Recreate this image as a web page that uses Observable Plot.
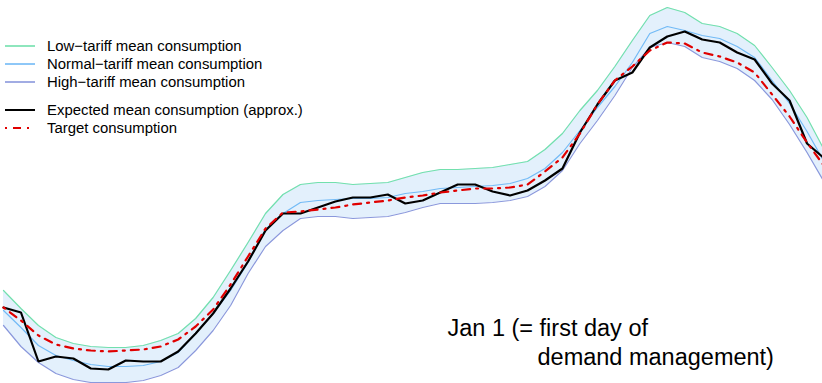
<!DOCTYPE html>
<html>
<head>
<meta charset="utf-8">
<script src="https://cdn.jsdelivr.net/npm/d3@7"></script>
<script src="https://cdn.jsdelivr.net/npm/@observablehq/plot@0.6"></script>
<style>
  html, body { margin: 0; padding: 0; background: #fff; }
  #wrap { position: relative; width: 822px; height: 383px; overflow: hidden; font-family: "Liberation Sans", Arial, sans-serif; }
  #legend { position: absolute; left: 0; top: 0; }
  #legend .row { position: absolute; left: 0; height: 18px; white-space: nowrap; font-size: 14.9px; color: #000; }
  #legend svg { position: absolute; left: 0; top: 0; overflow: visible; }
  #legend span { position: absolute; left: 47px; top: 0; line-height: 18px; }
</style>
</head>
<body>
<div id="wrap"></div>
<script>
// half-hour time slots (hours)
const slots = [0,0.5,1,1.5,2,2.5,3,3.5,4,4.5,5,5.5,6,6.5,7,7.5,8,8.5,9,9.5,10,10.5,11,11.5,
               12,12.5,13,13.5,14,14.5,15,15.5,16,16.5,17,17.5,18,18.5,19,19.5,20,20.5,21,21.5,22,22.5,23,23.5];

// mean consumption (arbitrary units)
const lowTariff = [110,92,75,63,57,54,53,53,55,60,67,82,103,130,158,187,206,216,218,218,216,217,218,223,
                   228,231,231,232,233,236,239,251,267,290,310,334,360,385,393,388,377,374,367,355,333,310,283,250];
const normalTariff = [90,73,55,45,40,36,34,34,35,39,48,67,87,110,138,171,187,198,200,201,202,202,203,207,
                      209,212,213,214,215,217,222,232,248,270,293,314,338,367,374,370,365,362,354,343,320,297,269,238];
const highTariff = [75,54,38,27,21,18,18,18,20,25,33,50,70,95,127,154,170,182,184,184,182,183,184,188,
                    193,197,197,197,198,200,204,214,230,257,280,305,333,353,358,354,343,339,332,320,301,276,248,218];
const expected = [93,88,39,44,42,32,31,40,39,39,49,67,87,112,139,170,187,187,193,199,203,203,206,197,
                  200,208,216,216,209,205,210,220,232,268,296,320,328,353,364,369,361,358,348,341,317,300,257,242];
const target = [93,80,65,56,52,50,49,50,51,54,61,74,91,116,144,172,188,189,191,193,196,198,200,203,
                205,208,210,212,212,213,216,229,243,267,296,320,334,350,358,357,348,344,338,328,306,284,258,234];

const legendLabels = ["Low\u2212tariff mean consumption", "Normal\u2212tariff mean consumption",
                      "High\u2212tariff mean consumption", "Expected mean consumption (approx.)", "Target consumption"];
const annotationLines = ["Jan 1 (= first day of", "demand management)"];

const colors = {low: "#72e0ad", normal: "#72baf6", high: "#8a98dc", fill: "#e3f0fc", expected: "#000000", target: "#e00000"};

const data = slots.map((t, i) => ({t, low: lowTariff[i], normal: normalTariff[i], high: highTariff[i],
                                   expected: expected[i], target: target[i]}));

const chart = Plot.plot({
  width: 822,
  height: 383,
  margin: 0,
  x: {domain: [0, 23.5], range: [3, 824], axis: null},
  y: {domain: [17, 400], range: [383, 0], axis: null},
  marks: [
    Plot.areaY(data, {x: "t", y1: "high", y2: "low", fill: colors.fill}),
    Plot.lineY(data, {x: "t", y: "low", stroke: colors.low, strokeWidth: 1.2}),
    Plot.lineY(data, {x: "t", y: "normal", stroke: colors.normal, strokeWidth: 1.2}),
    Plot.lineY(data, {x: "t", y: "high", stroke: colors.high, strokeWidth: 1.2}),
    Plot.lineY(data, {x: "t", y: "expected", stroke: colors.expected, strokeWidth: 2.2, strokeLinejoin: "miter"}),
    Plot.lineY(data, {x: "t", y: "target", stroke: colors.target, strokeWidth: 2.2, strokeDasharray: "2,6,8,6"}),
    Plot.text([annotationLines[0]], {frameAnchor: "top-left", dx: 447, dy: 328, text: d => d,
      fontSize: 23.5, textAnchor: "start", lineAnchor: "middle", fill: "#000"}),
    Plot.text([annotationLines[1]], {frameAnchor: "top-left", dx: 537, dy: 357, text: d => d,
      fontSize: 23.5, textAnchor: "start", lineAnchor: "middle", fill: "#000"})
  ]
});
chart.style.fontFamily = '"Liberation Sans", Arial, sans-serif';
chart.style.overflow = "hidden";

const wrap = document.getElementById("wrap");
wrap.appendChild(chart);

// legend overlay
const legend = document.createElement("div");
legend.id = "legend";
const rows = [
  {label: legendLabels[0], y: 46, stroke: colors.low, w: 1.6, dash: null},
  {label: legendLabels[1], y: 64, stroke: colors.normal, w: 1.6, dash: null},
  {label: legendLabels[2], y: 82, stroke: colors.high, w: 1.6, dash: null},
  {label: legendLabels[3], y: 109.5, stroke: colors.expected, w: 2, dash: null},
  {label: legendLabels[4], y: 128, stroke: colors.target, w: 2, dash: "2,6,8,6"}
];
for (const r of rows) {
  const row = document.createElement("div");
  row.className = "row";
  row.style.top = (r.y - 9) + "px";
  row.innerHTML = `<svg width="40" height="18"><line x1="5" x2="35" y1="9" y2="9" stroke="${r.stroke}" stroke-width="${r.w}"${r.dash ? ` stroke-dasharray="${r.dash}"` : ""}/></svg><span>${r.label}</span>`;
  legend.appendChild(row);
}
wrap.appendChild(legend);
</script>
</body>
</html>
